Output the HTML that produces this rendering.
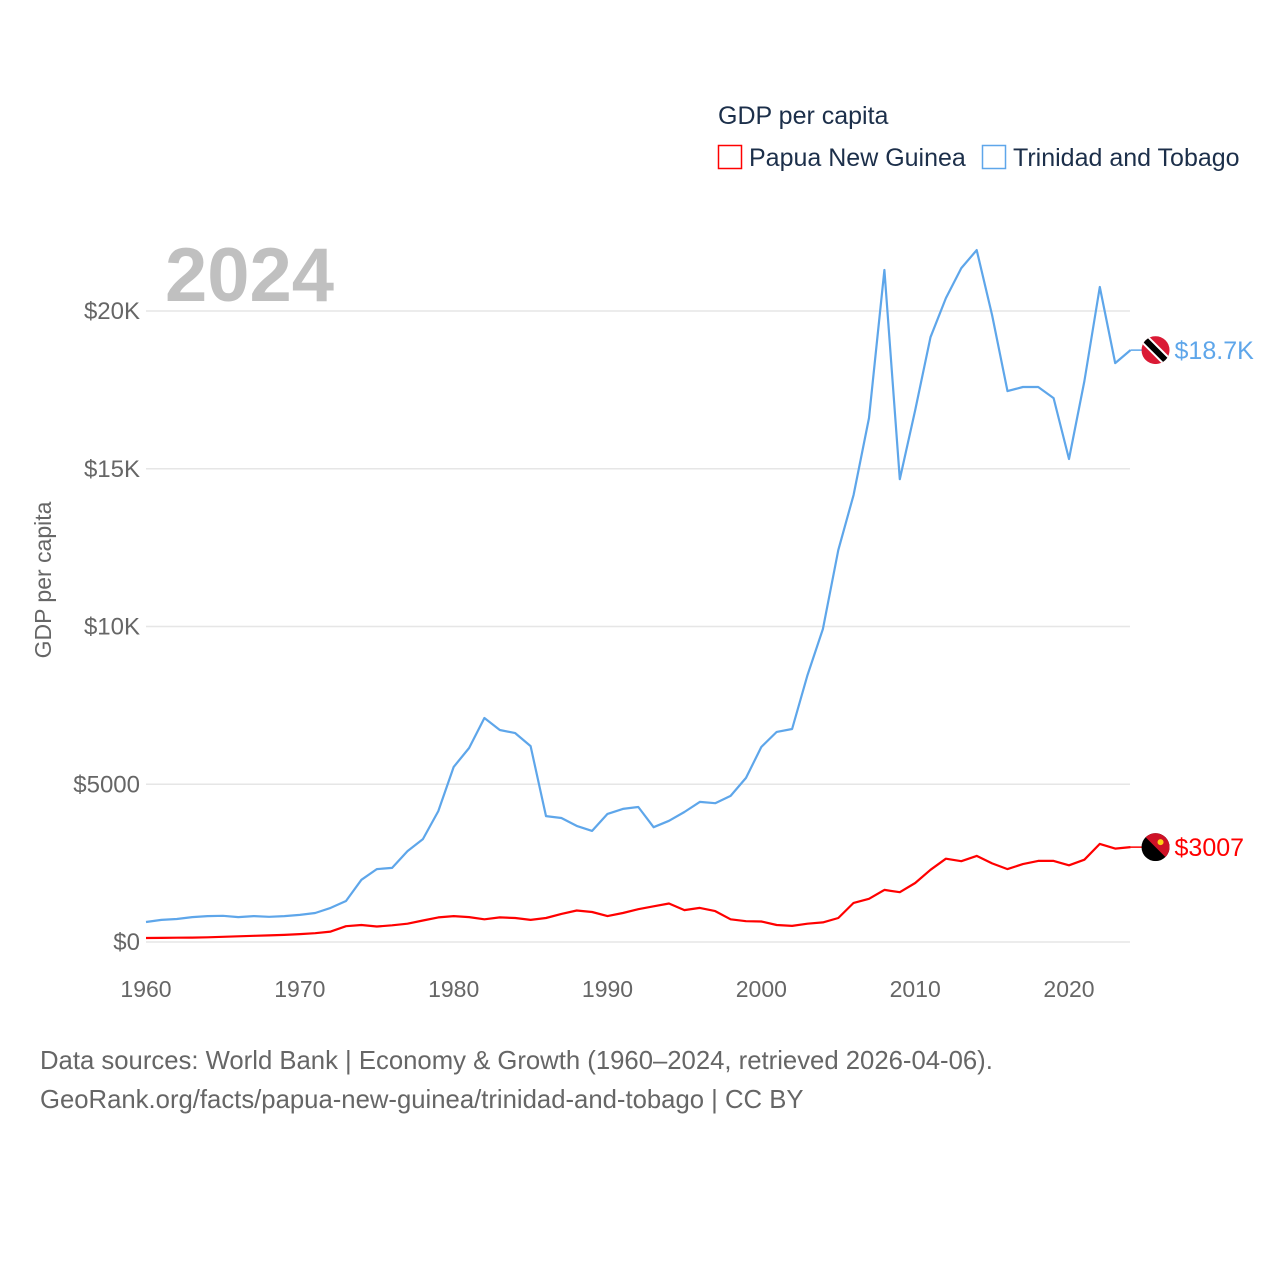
<!DOCTYPE html>
<html><head><meta charset="utf-8"><style>
body{margin:0;background:#fff;font-family:"Liberation Sans",sans-serif}
svg text{font-family:"Liberation Sans",sans-serif}
</style></head><body>
<svg width="1280" height="1280" viewBox="0 0 1280 1280" id="chart">
<text x="718" y="124" font-size="25" fill="#1c2f4a">GDP per capita</text>
<rect x="718.5" y="145.5" width="23" height="23" fill="none" stroke="#ff0000" stroke-width="1.5"/>
<text x="749" y="166" font-size="25" fill="#1c2f4a">Papua New Guinea</text>
<rect x="982.5" y="145.5" width="23" height="23" fill="none" stroke="#5ea6ea" stroke-width="1.5"/>
<text x="1013" y="166" font-size="25" fill="#1c2f4a">Trinidad and Tobago</text>
<text x="165" y="301" font-size="76" font-weight="bold" fill="#c0c0c0">2024</text>
<text transform="translate(51,580) rotate(-90)" text-anchor="middle" font-size="23" fill="#666">GDP per capita</text>
<g id="grid"></g><g id="xt"></g><g id="lines"></g>
<text x="40" y="1069" font-size="25.7" fill="#666">Data sources: World Bank | Economy &amp; Growth (1960–2024, retrieved 2026-04-06).</text>
<text x="40" y="1108" font-size="25.7" fill="#666">GeoRank.org/facts/papua-new-guinea/trinidad-and-tobago | CC BY</text>
</svg>
<script>
const years=[];for(let y=1960;y<=2024;y++)years.push(y);
const ttValues=[634,700,730,790,820,830,790,820,800,820,860,920,1080,1300,1970,2310,2350,2880,3260,4150,5550,6150,7100,6720,6620,6210,3990,3930,3680,3520,4060,4220,4280,3640,3840,4120,4440,4400,4630,5200,6180,6660,6750,8460,9920,12420,14170,16610,21300,14670,16860,19170,20410,21360,21930,19870,17460,17590,17590,17240,15310,17780,20760,18350,18760];
const pngValues=[127,130,135,140,150,165,180,195,210,225,250,280,330,500,540,490,530,580,680,780,820,790,720,780,760,700,760,890,1000,950,820,920,1040,1130,1220,1010,1080,980,720,660,650,540,510,580,620,760,1240,1370,1650,1580,1870,2290,2640,2560,2730,2490,2310,2470,2570,2570,2430,2610,3110,2960,3007];
const yTicks=[0,5000,10000,15000,20000];
const yTickLabels=["$0","$5000","$10K","$15K","$20K"];
const xTicks=[1960,1970,1980,1990,2000,2010,2020];
const NS="http://www.w3.org/2000/svg";
const X=y=>146+(y-1960)*923/60;
const Y=v=>942-v*631/20000;
function mk(t,a,p){const e=document.createElementNS(NS,t);for(const k in a)e.setAttribute(k,a[k]);p.appendChild(e);return e;}
const g=document.getElementById('grid');
yTicks.forEach((v,i)=>{
 const l=mk('line',{x1:146,x2:1130,y1:Y(v),y2:Y(v),stroke:'#e6e6e6','stroke-width':1.5},g);
 
 
 const t=mk('text',{x:140,y:Y(v)+8,'text-anchor':'end','font-size':24,fill:'#666'},g);
 t.textContent=yTickLabels[i];
 
 
});
const xt=document.getElementById('xt');
xTicks.forEach(y=>{
 const t=mk('text',{x:X(y),y:997,'text-anchor':'middle','font-size':23,fill:'#666'},xt);
 t.textContent=y;
 
 
});
const L=document.getElementById('lines');
function series(vals,col,name){
 const d=vals.map((v,i)=>(i?'L':'M')+X(years[i]).toFixed(1)+','+Y(v).toFixed(1)).join('');
 const p=mk('path',{d:d,fill:'none',stroke:col,'stroke-width':2.2,'stroke-linejoin':'round'},L);
 
 
}
series(ttValues,'#5ea6ea','line-trinidad-tobago');
series(pngValues,'#ff0000','line-papua-new-guinea');
function endLabel(vals,col,name,txt,flag){
 const v=vals[vals.length-1],y=Y(v),x=X(2024);
 mk('line',{x1:x,x2:x+12,y1:y,y2:y,stroke:col,'stroke-width':1.5},L);
 const fg=mk('g',{},L);
 
 
 const cx=x+25;
 const cp=mk('clipPath',{id:'c'+name},fg);mk('circle',{cx:cx,cy:y,r:14},cp);
 const gg=mk('g',{'clip-path':'url(#c'+name+')'},fg);
 if(flag==='tt'){
  mk('rect',{x:cx-14,y:y-14,width:28,height:28,fill:'#da1a35'},gg);
  mk('line',{x1:cx-16,y1:y-16,x2:cx+16,y2:y+16,stroke:'#fff','stroke-width':10},gg);
  mk('line',{x1:cx-16,y1:y-16,x2:cx+16,y2:y+16,stroke:'#000','stroke-width':6},gg);
 }else{
  mk('rect',{x:cx-14,y:y-14,width:28,height:28,fill:'#000'},gg);
  mk('polygon',{points:(cx-14)+','+(y-14)+' '+(cx+14)+','+(y-14)+' '+(cx+14)+','+(y+14),fill:'#ce1126'},gg);
  mk('circle',{cx:cx+5,cy:y-5,r:3,fill:'#fcd116'},gg);
 }
 const t=mk('text',{x:x+44,y:y+9,'font-size':25,fill:col},L);
 t.textContent=txt;
 
 
}
endLabel(ttValues,'#5ea6ea','trinidad-tobago','$18.7K','tt');
endLabel(pngValues,'#ff0000','papua-new-guinea','$3007','png');
</script>
</body></html>
